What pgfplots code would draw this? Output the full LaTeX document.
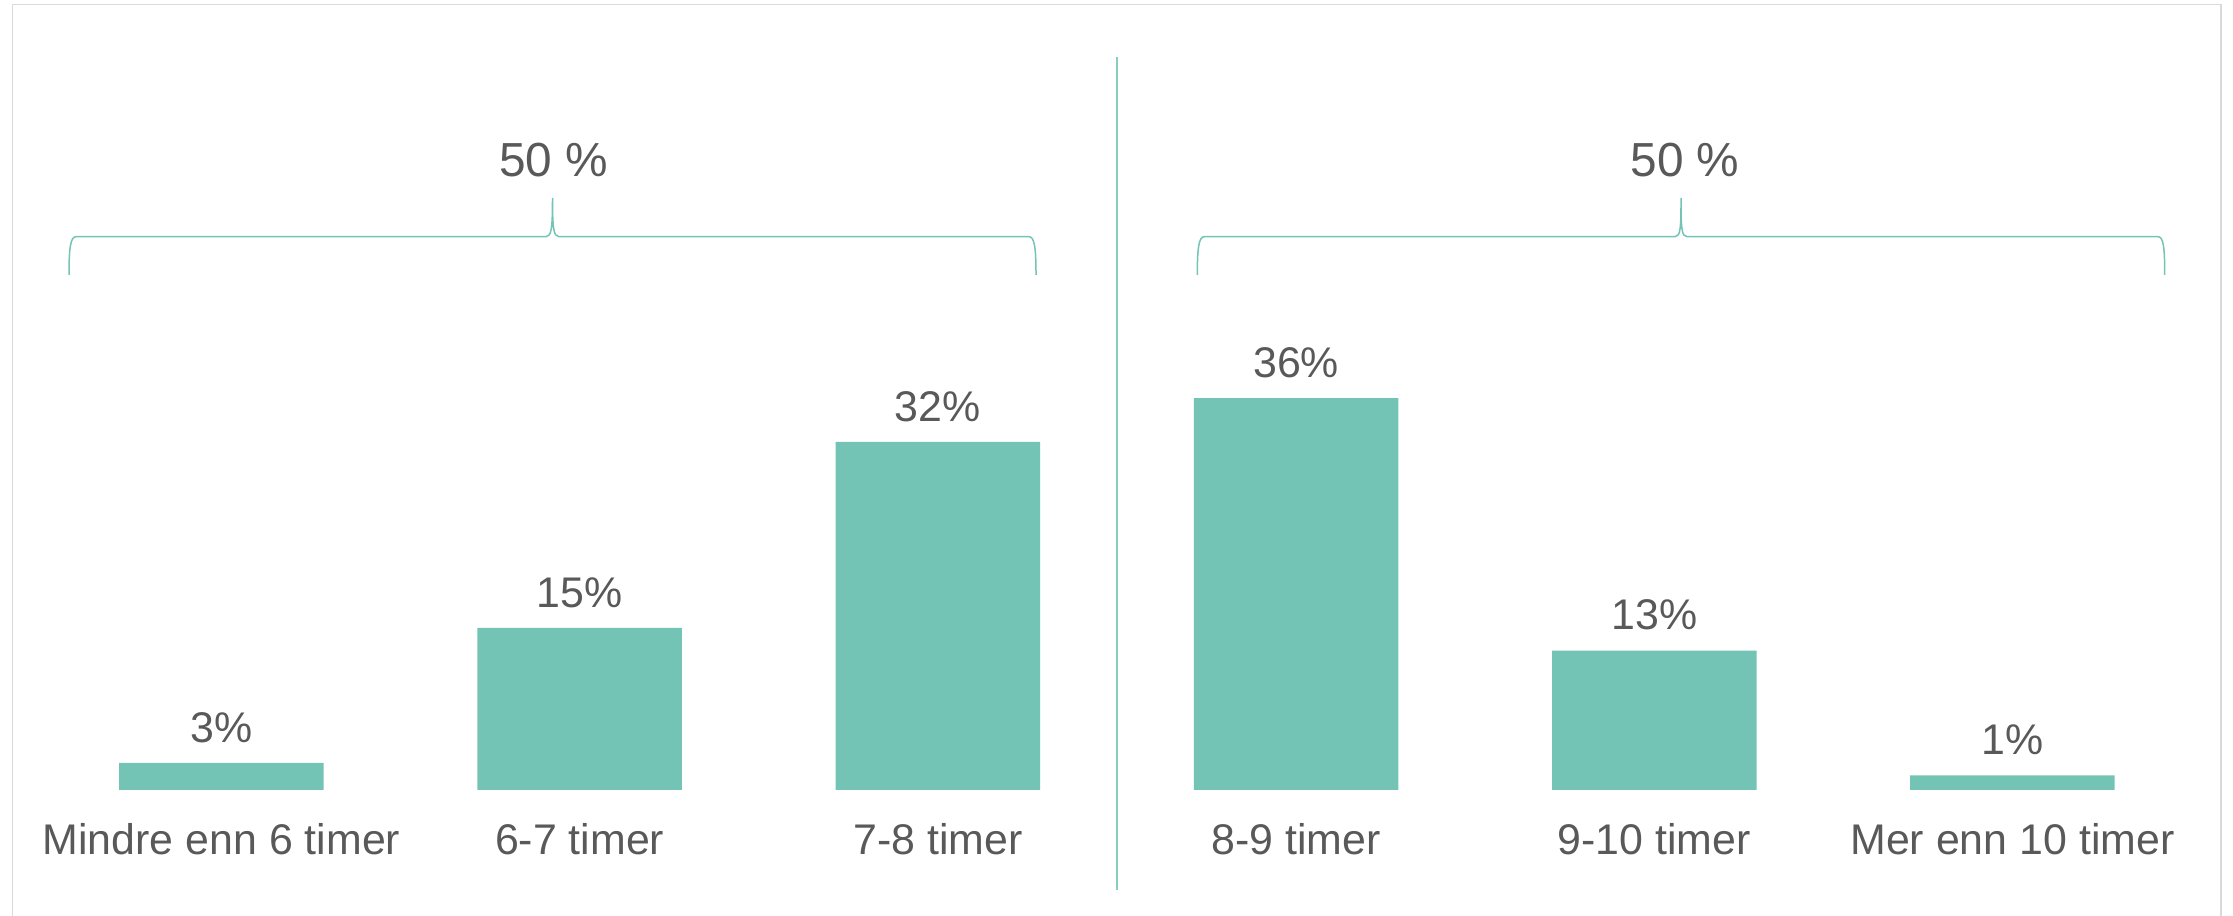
\documentclass[border=0pt]{standalone}
\usepackage{pgfplots}
\pgfplotsset{compat=1.18}
\usepackage{fontspec}
\setmainfont{Liberation Sans}
\definecolor{barcol}{HTML}{73C4B5}
\definecolor{linecol}{HTML}{73C4B5}
\definecolor{txt}{HTML}{595959}
\definecolor{frame}{HTML}{D9D9D9}
\begin{document}
\begin{tikzpicture}
\begin{axis}[
  at={(4.24mm,12.6mm)}, anchor=south west,
  scale only axis,
  width=214.92mm, height=79mm,
  xmin=-0.5, xmax=5.5, ymin=0, ymax=72.6,
  clip=false,
  axis line style={draw=none},
  major tick length=0pt,
  ytick=\empty,
  xtick={0,1,2,3,4,5},
  xticklabels={Mindre enn 6 timer,6-7 timer,7-8 timer,8-9 timer,9-10 timer,Mer enn 10 timer},
  xticklabel style={font=\fontsize{12.2pt}{14pt}\selectfont, text=txt, inner sep=0pt, anchor=base, yshift=-6.5mm},
  ybar, bar width=20.45mm,
  point meta=explicit symbolic,
  nodes near coords,
  nodes near coords style={font=\fontsize{12.2pt}{14pt}\selectfont, text=txt, inner sep=0pt, anchor=base, yshift=2.07mm},
]
\addplot[fill=barcol, draw=none] coordinates {
  (0,2.5) [3\%]
  (1,14.9) [15\%]
  (2,32.0) [32\%]
  (3,36.0) [36\%]
  (4,12.8) [13\%]
  (5,1.34) [1\%]
};
\end{axis}
\begin{scope}[yshift=91.6mm, x=0.1mm, y=-0.1mm]
  % frame
  \draw[frame, line width=0.15mm] (12.5,1000) -- (12.5,4.7) -- (2221,4.7) -- (2221,1000);
  % divider
  \draw[linecol!85, line width=0.2mm] (1116.7,57.3) -- (1116.7,890);
  % left brace
  \draw[linecol, line width=0.15mm]
    (69,275) .. controls (69,248) and (70.5,236.7) .. (76,236.7)
    -- (546,236.7) .. controls (551.5,236.7) and (552.5,228) .. (552.5,198)
    .. controls (552.5,228) and (553.5,236.7) .. (559,236.7)
    -- (1029,236.7) .. controls (1034.5,236.7) and (1036,248) .. (1036,275);
  % right brace
  \draw[linecol, line width=0.15mm]
    (1197.3,275) .. controls (1197.3,248) and (1198.8,236.7) .. (1204.3,236.7)
    -- (1675,236.7) .. controls (1680.5,236.7) and (1681,228) .. (1681,198)
    .. controls (1681,228) and (1681.5,236.7) .. (1687,236.7)
    -- (2158,236.7) .. controls (2163.5,236.7) and (2164.7,248) .. (2164.7,275);
  \node[anchor=base, inner sep=0pt, text=txt, font=\fontsize{13.6pt}{16pt}\selectfont] at (553.5,176.7) {50 \%};
  \node[anchor=base, inner sep=0pt, text=txt, font=\fontsize{13.6pt}{16pt}\selectfont] at (1685,176.7) {50 \%};
\end{scope}
\pgfresetboundingbox
\path (0,0) rectangle (223.3mm,91.6mm);
\end{tikzpicture}
\end{document}
